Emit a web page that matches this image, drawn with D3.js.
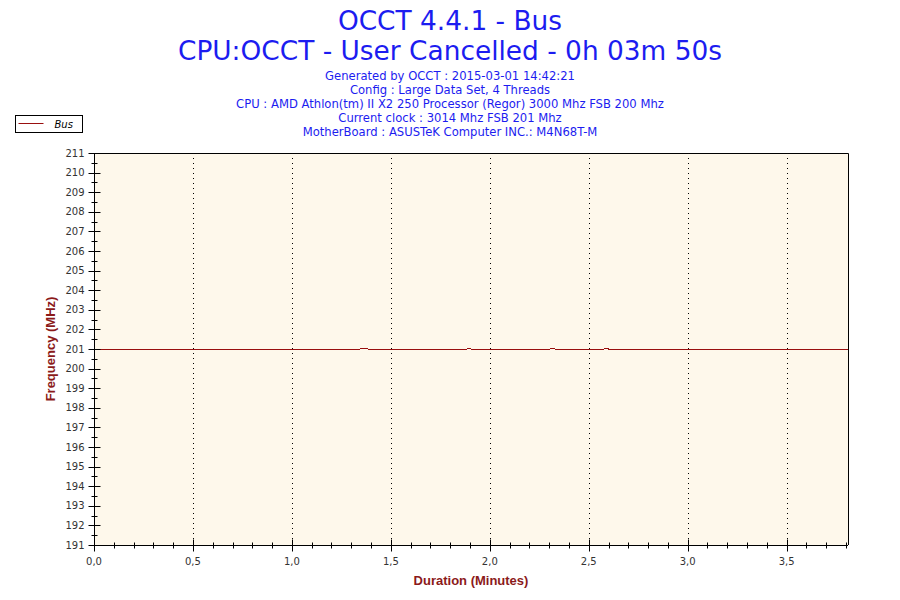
<!DOCTYPE html>
<html lang="en">
<head>
  <meta charset="UTF-8">
  <script src="https://d3js.org/d3.v7.min.js"></script>
  <style>
    body { margin: 0; padding: 0; background: #fff; }
    svg { display: block; font-family: "DejaVu Sans", Verdana, sans-serif; }
  </style>
</head>
<body>
  <div id="chart"></div>
  <script>
    // chart values
    const titleLines = ["OCCT 4.4.1 - Bus", "CPU:OCCT - User Cancelled - 0h 03m 50s"];
    const infoLines = [
      "Generated by OCCT : 2015-03-01 14:42:21",
      "Config : Large Data Set, 4 Threads",
      "CPU : AMD Athlon(tm) II X2 250 Processor (Regor) 3000 Mhz FSB 200 Mhz",
      "Current clock : 3014 Mhz FSB 201 Mhz",
      "MotherBoard : ASUSTeK Computer INC.: M4N68T-M"
    ];
    const seriesName = "Bus";
    // time in minutes, bus frequency in MHz
    const times = [0, 1.345, 1.35, 1.38, 1.385, 1.885, 1.89, 1.9, 1.905, 2.305, 2.31, 2.325, 2.33, 2.578, 2.583, 2.595, 2.6, 3.81];
    const values = [201, 201, 201.05, 201.05, 201, 201, 201.05, 201.05, 201, 201, 201.05, 201.05, 201, 201, 201.05, 201.05, 201, 201];
    const xMax = 3.81;
    const yMin = 191, yMax = 211;
    const xMajor = [0, 0.5, 1, 1.5, 2, 2.5, 3, 3.5];

    const width = 900, height = 600;
    const m = { left: 94, right: 52, top: 153, bottom: 55 };

    const svg = d3.select("#chart").append("svg")
      .attr("width", width).attr("height", height);

    const x = d3.scaleLinear().domain([0, xMax]).range([m.left, width - m.right]);
    const y = d3.scaleLinear().domain([yMin, yMax]).range([height - m.bottom, m.top]);

    // titles
    svg.selectAll(".title").data(titleLines).enter().append("text")
      .attr("x", 450).attr("y", (d, i) => 30 + i * 30)
      .attr("text-anchor", "middle")
      .attr("font-size", 26.4).attr("fill", "#1c1cf0")
      .text(d => d);

    svg.selectAll(".info").data(infoLines).enter().append("text")
      .attr("x", 450).attr("y", (d, i) => 80 + i * 14)
      .attr("text-anchor", "middle")
      .attr("font-size", 11.6).attr("fill", "#1c1cf0")
      .text(d => d);

    // plot background
    svg.append("rect")
      .attr("x", m.left).attr("y", m.top)
      .attr("width", width - m.right - m.left)
      .attr("height", height - m.bottom - m.top)
      .attr("fill", "#fef8eb");

    // vertical dotted grid
    svg.append("g").selectAll("line")
      .data(xMajor.filter(d => d > 0)).enter().append("line")
      .attr("x1", d => Math.round(x(d)) + 0.5).attr("x2", d => Math.round(x(d)) + 0.5)
      .attr("y1", m.top).attr("y2", height - m.bottom)
      .attr("stroke", "#000").attr("stroke-width", 1)
      .attr("stroke-dasharray", "1,4");

    // series line
    const line = d3.line().x(d => x(d[0])).y(d => y(d[1]));
    svg.append("path")
      .datum(times.map((t, i) => [t, values[i]]))
      .attr("d", line)
      .attr("fill", "none")
      .attr("stroke", "#990f0f")
      .attr("stroke-width", 1)
      .attr("shape-rendering", "crispEdges");

    // frame (top, right)
    svg.append("path")
      .attr("d", `M${m.left},${m.top + 0.5}H${width - m.right + 0.5}V${height - m.bottom}`)
      .attr("fill", "none").attr("stroke", "#000");

    // y axis
    const yAxis = svg.append("g").attr("transform", `translate(${m.left + 0.5},0)`);
    yAxis.append("line").attr("y1", m.top).attr("y2", height - m.bottom).attr("stroke", "#000");
    const yMinor = d3.range(yMin + 0.5, yMax, 1);
    yAxis.selectAll(".ymin").data(yMinor).enter().append("line")
      .attr("x1", -3).attr("x2", 3)
      .attr("y1", d => Math.round(y(d)) + 0.5).attr("y2", d => Math.round(y(d)) + 0.5)
      .attr("stroke", "#000");
    const yTicks = d3.range(yMin, yMax + 1, 1);
    yAxis.selectAll(".ymaj").data(yTicks).enter().append("line")
      .attr("x1", -6).attr("x2", 6)
      .attr("y1", d => Math.round(y(d)) + 0.5).attr("y2", d => Math.round(y(d)) + 0.5)
      .attr("stroke", "#000");
    yAxis.selectAll(".ylab").data(yTicks).enter().append("text")
      .attr("x", -10).attr("y", d => y(d) + 3.5)
      .attr("text-anchor", "end").attr("font-size", 10).attr("fill", "#333")
      .text(d => d);

    // x axis
    const xAxis = svg.append("g").attr("transform", `translate(0,${height - m.bottom + 0.5})`);
    xAxis.append("line").attr("x1", m.left).attr("x2", width - m.right).attr("stroke", "#000");
    const xMinor = d3.range(1, Math.floor(xMax * 10) + 1).map(d => d / 10).filter(d => Math.round(d * 10) % 5 !== 0);
    xAxis.selectAll(".xmin").data(xMinor).enter().append("line")
      .attr("x1", d => Math.round(x(d)) + 0.5).attr("x2", d => Math.round(x(d)) + 0.5)
      .attr("y1", -3).attr("y2", 3).attr("stroke", "#000");
    xAxis.selectAll(".xmaj").data(xMajor).enter().append("line")
      .attr("x1", d => Math.round(x(d)) + 0.5).attr("x2", d => Math.round(x(d)) + 0.5)
      .attr("y1", -6).attr("y2", 6).attr("stroke", "#000");
    xAxis.selectAll(".xlab").data(xMajor).enter().append("text")
      .attr("x", d => x(d)).attr("y", 19)
      .attr("text-anchor", "middle").attr("font-size", 10).attr("fill", "#333")
      .text(d => d.toFixed(1).replace(".", ","));

    // axis titles
    svg.append("text")
      .attr("x", (m.left + width - m.right) / 2).attr("y", 585)
      .attr("text-anchor", "middle")
      .attr("font-family", "'Liberation Sans', Arial, sans-serif")
      .attr("font-weight", "bold").attr("font-size", 13).attr("fill", "#8b1a1a")
      .text("Duration (Minutes)");
    svg.append("text")
      .attr("transform", `translate(55,${(m.top + height - m.bottom) / 2}) rotate(-90)`)
      .attr("text-anchor", "middle")
      .attr("font-family", "'Liberation Sans', Arial, sans-serif")
      .attr("font-weight", "bold").attr("font-size", 13).attr("fill", "#8b1a1a")
      .text("Frequency (MHz)");

    // legend
    const legend = svg.append("g").attr("transform", "translate(15.5,115.5)");
    legend.append("rect").attr("width", 67).attr("height", 17)
      .attr("fill", "#fff").attr("stroke", "#000");
    legend.append("line").attr("x1", 3).attr("x2", 28).attr("y1", 8).attr("y2", 8)
      .attr("stroke", "#990f0f");
    legend.append("text").attr("x", 39).attr("y", 12.5)
      .attr("font-size", 10).attr("font-style", "italic").attr("fill", "#000")
      .text(seriesName);
  </script>
</body>
</html>
